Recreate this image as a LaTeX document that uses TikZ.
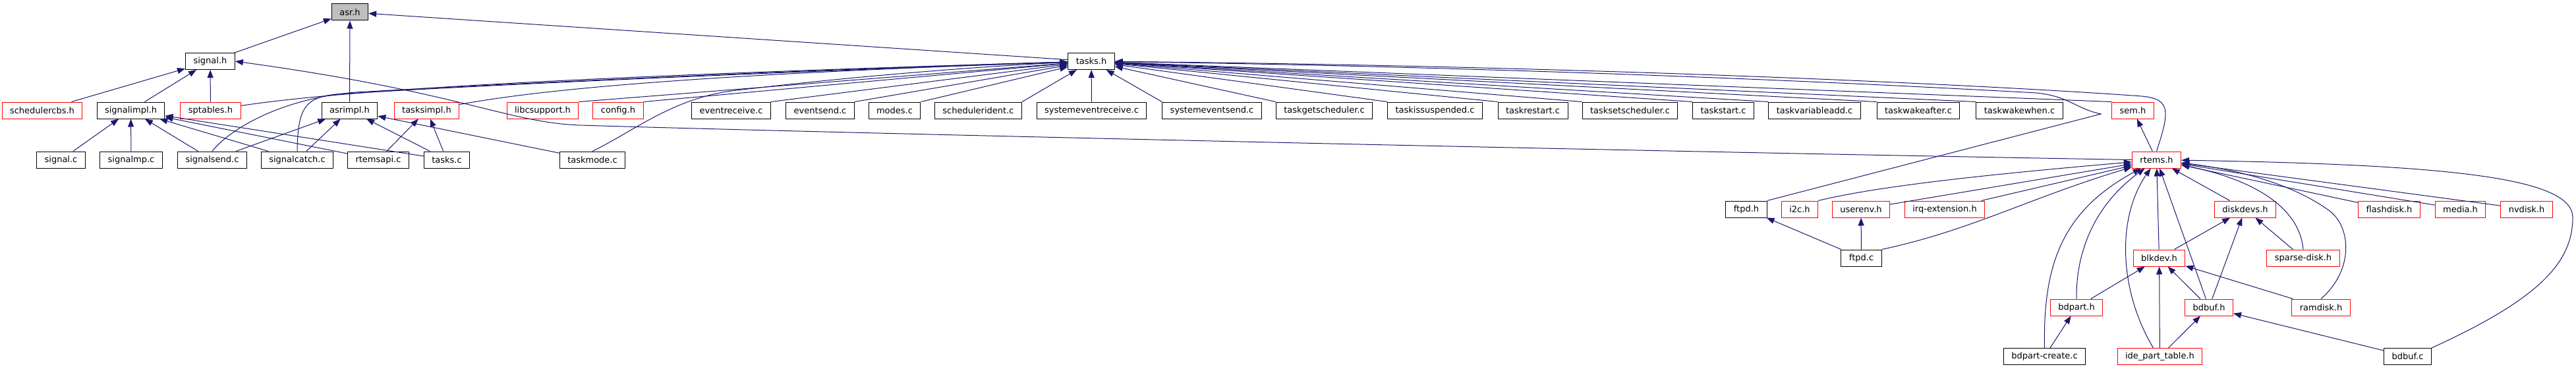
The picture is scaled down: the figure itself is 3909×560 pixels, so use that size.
\documentclass[tikz,border=0pt]{standalone}
\usepackage{fontspec}
\setmainfont{DejaVu Sans}
\usetikzlibrary{arrows.meta}
\definecolor{edgeblue}{HTML}{191970}
\definecolor{rootgrey}{HTML}{BFBFBF}

\begin{document}
\begin{tikzpicture}[x=0.75pt, y=-0.75pt,
        filebox/.style = {draw=black, fill=white, line width=0.75pt, minimum height=18.75pt, inner xsep=9pt, inner ysep=0pt, font=\fontsize{9.75}{11}\selectfont},
        truncbox/.style = {filebox, draw=red},
        rootbox/.style = {filebox, fill=rootgrey},
        incl/.style = {draw=edgeblue, line width=0.75pt, -{Triangle[length=9pt, width=6.75pt]}}]
        \useasboundingbox (0,0) rectangle (3909,560);
        \node[rootbox] (asr) at (531,18.5) {asr.h};
        \node[filebox] (signalh) at (319,93) {signal.h};
        \node[filebox] (tasksh) at (1656,93) {tasks.h};
        \draw[incl] (signalh) -- (asr);
        \draw[incl] (tasksh) -- (asr);

        \node[truncbox] (schedcbs) at (64,167.5) {schedulercbs.h};
        \node[filebox] (sigimpl) at (198.5,167.5) {signalimpl.h};
        \node[truncbox] (sptables) at (319.5,167.5) {sptables.h};
        \node[filebox] (asrimpl) at (530.5,167.5) {asrimpl.h};
        \node[truncbox] (taskimpl) at (647.5,167.5) {tasksimpl.h};
        \draw[incl] (asrimpl) -- (asr);
        \foreach \n in {schedcbs,sigimpl,sptables}{
            \draw[incl] (\n) -- (signalh);
        }
        \foreach \n/\x/\sty/\anc/\lbl in {libc/823.5/truncbox/north east/libcsupport.h, config/938/truncbox/north east/config.h,
                evrecv/1109.5/filebox/north east/eventreceive.c, evsend/1244.5/filebox/north east/eventsend.c,
                modes/1357.5/filebox/north east/modes.c, schedident/1484.5/filebox/north east/schedulerident.c,
                sysevrecv/1656.5/filebox/north/systemeventreceive.c, sysevsend/1839/filebox/north west/systemeventsend.c,
                getsched/2009.5/filebox/north west/taskgetscheduler.c, issusp/2177.5/filebox/north west/taskissuspended.c,
                restart/2326/filebox/north west/taskrestart.c, setsched/2473.5/filebox/north west/tasksetscheduler.c,
                start/2615/filebox/north west/taskstart.c, varadd/2753.5/filebox/north west/taskvariableadd.c,
                wakeafter/2911/filebox/north west/taskwakeafter.c, wakewhen/3064.5/filebox/north west/taskwakewhen.c,
                semh/3236.5/truncbox/north west/sem.h}{
            \node[\sty] at (\x,167.5) (\n) {\lbl};
            \draw[incl] (\n.\anc) -- (tasksh);
        }
        \draw[incl] (sptables) .. controls (500,140) and (800,118) .. (tasksh);
        \draw[incl] (taskimpl) .. controls (800,140) and (1000,115) .. (tasksh);

        \node[filebox] (signalc) at (92.5,242.5) {signal.c};
        \node[filebox] (sigmp) at (199,242.5) {signalmp.c};
        \node[filebox] (sigsend) at (322,242.5) {signalsend.c};
        \node[filebox] (sigcatch) at (451,242.5) {signalcatch.c};
        \node[filebox] (rtemsapi) at (574,242.5) {rtemsapi.c};
        \node[filebox] (tasksc) at (678,242.5) {tasks.c};
        \node[filebox] (taskmode) at (899,242.5) {taskmode.c};
        \node[truncbox] (rtemsh) at (3272.5,242.5) {rtems.h};
        \foreach \n in {signalc,sigmp,sigsend,sigcatch,rtemsapi,tasksc}{
            \draw[incl] (\n) -- (sigimpl);
        }
        \foreach \n in {sigsend,sigcatch,tasksc,taskmode}{
            \draw[incl] (\n) -- (asrimpl);
        }
        \foreach \n in {rtemsapi,tasksc}{
            \draw[incl] (\n) -- (taskimpl);
        }
        \draw[incl] (sigsend.north) .. controls (345,200) and (420,150) .. (540,140) .. controls (800,125) and (1300,103) .. (tasksh);
        \draw[incl] (sigcatch.north) .. controls (452,165) and (462,148) .. (510,143) .. controls (800,125) and (1300,105) .. (tasksh);
        \draw[incl] (taskmode.north) .. controls (960,200) and (1020,150) .. (1110,138) .. controls (1300,115) and (1500,100) .. (tasksh);
        \draw[incl] (rtemsh.north) .. controls (3292,170) and (3295,150) .. (3250,146) .. controls (3000,128) and (2400,100) .. (tasksh);
        \draw[incl] (rtemsh.west) .. controls (2400,228) and (1200,200) .. (880,190) .. controls (770,186) and (700,140) .. (signalh.east);
        \draw[incl] (rtemsh) -- (semh);

        \node[filebox] (ftpdh) at (2650,317.5) {ftpd.h};
        \foreach \n/\x/\lbl in {i2ch/2731/i2c.h, userenv/2824/userenv.h, irqext/2951/irq-extension.h,
                diskdevs/3407/diskdevs.h, flashdisk/3625.5/flashdisk.h, media/3733.5/media.h, nvdisk/3834/nvdisk.h}{
            \node[truncbox] at (\x,317.5) (\n) {\lbl};
        }
        \draw[incl] (ftpdh.north east) -- (3188,173) .. controls (3150,165) and (3140,146) .. (3090,141) .. controls (2800,125) and (2300,102) .. (tasksh);
        \draw[incl] (i2ch.north east) .. controls (2860,280) and (3050,262) .. (rtemsh);
        \foreach \n in {userenv,irqext,diskdevs,flashdisk,media,nvdisk}{
            \draw[incl] (\n) -- (rtemsh);
        }

        \node[filebox] (ftpdc) at (2824.5,391.5) {ftpd.c};
        \node[truncbox] (blkdev) at (3276.5,391.5) {blkdev.h};
        \node[truncbox] (sparse) at (3495,391.5) {sparse-disk.h};
        \draw[incl] (ftpdc) -- (ftpdh);
        \draw[incl] (ftpdc) -- (userenv);
        \draw[incl] (ftpdc.north east) .. controls (2990,350) and (3080,300) .. (rtemsh);
        \draw[incl] (blkdev) -- (rtemsh);
        \draw[incl] (blkdev) -- (diskdevs);
        \draw[incl] (sparse) -- (diskdevs);
        \draw[incl] (sparse.north) .. controls (3490,320) and (3430,275) .. (rtemsh);

        \node[truncbox] (bdparth) at (3151,466.5) {bdpart.h};
        \node[truncbox] (bdbufh) at (3352,466.5) {bdbuf.h};
        \node[truncbox] (ramdisk) at (3522,466.5) {ramdisk.h};
        \draw[incl] (bdparth.north) .. controls (3150,380) and (3180,310) .. (rtemsh);
        \draw[incl] (bdparth) -- (blkdev);
        \draw[incl] (bdbufh) -- (rtemsh);
        \draw[incl] (bdbufh) -- (diskdevs);
        \draw[incl] (bdbufh) -- (blkdev);
        \draw[incl] (ramdisk) -- (blkdev);
        \draw[incl] (ramdisk.north) .. controls (3572,410) and (3568,345) .. (3535,320) .. controls (3480,280) and (3400,258) .. (rtemsh);

        \node[filebox] (bdpartc) at (3102.5,541) {bdpart-create.c};
        \node[truncbox] (idepart) at (3277.5,541) {ide\_part\_table.h};
        \node[filebox] (bdbufc) at (3653.5,541) {bdbuf.c};
        \draw[incl] (bdpartc) -- (bdparth);
        \draw[incl] (bdpartc.north) .. controls (3100,400) and (3130,320) .. (rtemsh);
        \draw[incl] ([xshift=-7.5pt]idepart.north) .. controls (3215,440) and (3212,330) .. (rtemsh);
        \draw[incl] (idepart) -- (blkdev);
        \draw[incl] (idepart) -- (bdbufh);
        \draw[incl] (bdbufc) -- (bdbufh);
        \draw[incl] (bdbufc.north east) .. controls (3850,455) and (3904,400) .. (3904,330) .. controls (3904,270) and (3720,250) .. (rtemsh);
    \end{tikzpicture}
\end{document}
